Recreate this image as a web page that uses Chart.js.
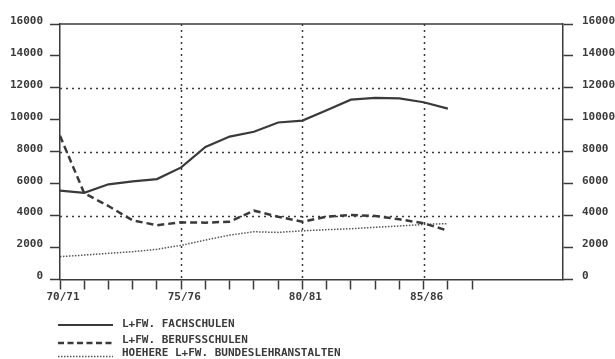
<!DOCTYPE html>
<html>
<head>
<meta charset="utf-8">
<script src="https://cdn.jsdelivr.net/npm/chart.js@4/dist/chart.umd.min.js"></script>
<style>
  html, body { margin: 0; padding: 0; background: #fff; }
  #wrap { width: 615px; height: 359px; }
</style>
</head>
<body>
<div id="wrap"><canvas id="c" width="615" height="359"></canvas></div>
<script>
// School years, one point per year (index = position on the x axis)
const seasons = ['70/71','71/72','72/73','73/74','74/75','75/76','76/77','77/78','78/79',
                 '79/80','80/81','81/82','82/83','83/84','84/85','85/86','86/87','87/88'];
const xTickLabels = ['70/71', '75/76', '80/81', '85/86'];
const yTickValues = [0, 2000, 4000, 6000, 8000, 10000, 12000, 14000, 16000];
const gridY = [4000, 8000, 12000];
const gridX = ['75/76', '80/81', '85/86'];

const seriesNames = ['L+FW. FACHSCHULEN', 'L+FW. BERUFSSCHULEN', 'HOEHERE L+FW. BUNDESLEHRANSTALTEN'];
const fachschulen   = [5560, 5430, 5960, 6150, 6290, 7020, 8300, 8950, 9250, 9830, 9950, 10600, 11260, 11370, 11340, 11100, 10700];
const berufsschulen = [9000, 5400, 4600, 3700, 3400, 3580, 3560, 3620, 4310, 3930, 3620, 3930, 4040, 3980, 3770, 3520, 3060];
const hoehere       = [1430, 1530, 1640, 1740, 1890, 2140, 2470, 2780, 2990, 2950, 3050, 3120, 3180, 3270, 3350, 3450, 3500];

const INK = '#3a3a3a';
const FONT = { family: "'DejaVu Sans Mono', 'Liberation Mono', monospace", size: 11, weight: 'bold' };

const toPoints = vals => vals.map((v, i) => ({ x: i, y: v }));

// Dotted reference grid and the top frame line
const framePlugin = {
  id: 'frame',
  beforeDatasetsDraw(chart) {
    const { ctx, scales: { x, y } } = chart;
    ctx.save();
    ctx.strokeStyle = INK;
    ctx.lineWidth = 1.5;
    ctx.setLineDash([2, 4]);
    gridY.forEach(v => {
      const py = Math.round(y.getPixelForValue(v)) + 0.5;
      ctx.beginPath(); ctx.moveTo(x.left, py); ctx.lineTo(x.right, py); ctx.stroke();
    });
    gridX.forEach(s => {
      const px = Math.round(x.getPixelForValue(seasons.indexOf(s))) + 0.5;
      ctx.beginPath(); ctx.moveTo(px, y.top); ctx.lineTo(px, y.bottom); ctx.stroke();
    });
    ctx.setLineDash([]);
    ctx.beginPath(); ctx.moveTo(x.left, y.top); ctx.lineTo(x.right, y.top); ctx.stroke();
    ctx.restore();
  }
};

// Legend: one row per series, line sample followed by its name
const legendPlugin = {
  id: 'rowLegend',
  afterDraw(chart) {
    const { ctx } = chart;
    const lineY = [325, 343, 356.5];
    const textY = [324, 340, 353];
    ctx.save();
    chart.data.datasets.forEach((ds, i) => {
      ctx.strokeStyle = ds.borderColor;
      ctx.lineWidth = ds.borderWidth;
      ctx.setLineDash(ds.legendDash || ds.borderDash || []);
      ctx.beginPath(); ctx.moveTo(58, lineY[i]); ctx.lineTo(113, lineY[i]); ctx.stroke();
      ctx.setLineDash([]);
      ctx.fillStyle = INK;
      ctx.font = `${FONT.weight} ${FONT.size}px ${FONT.family}`;
      ctx.textBaseline = 'middle';
      ctx.textAlign = 'left';
      ctx.fillText(ds.label, 122, textY[i]);
    });
    ctx.restore();
  }
};

const yAxis = (position, width, padding) => ({
  type: 'linear',
  position,
  min: 0,
  max: 16000,
  afterBuildTicks: s => { s.ticks = yTickValues.map(v => ({ value: v })); },
  afterFit: s => { s.width = width; },
  grid: { drawOnChartArea: false, tickLength: 10, tickWidth: 1.5, tickColor: INK },
  border: { display: true, color: INK, width: 1.5 },
  ticks: { color: INK, font: FONT, padding, labelOffset: -3, callback: v => String(v) }
});

new Chart(document.getElementById('c'), {
  type: 'line',
  data: {
    datasets: [
      { label: seriesNames[0], data: toPoints(fachschulen), borderColor: INK, borderWidth: 2.2,
        pointRadius: 0, tension: 0, fill: false },
      { label: seriesNames[1], data: toPoints(berufsschulen), borderColor: INK, borderWidth: 2.5,
        borderDash: [7, 4], legendDash: [6, 3.5], pointRadius: 0, tension: 0, fill: false },
      { label: seriesNames[2], data: toPoints(hoehere), borderColor: '#555', borderWidth: 1.5,
        borderDash: [1.5, 1.5], pointRadius: 0, tension: 0, fill: false }
    ]
  },
  options: {
    responsive: false,
    animation: false,
    devicePixelRatio: 1,
    layout: { padding: { left: 0, right: 0, top: 24, bottom: 50 } },
    plugins: { legend: { display: false }, tooltip: { enabled: false } },
    scales: {
      x: {
        type: 'linear',
        position: 'bottom',
        min: 0,
        max: 20.75,
        afterBuildTicks: s => { s.ticks = seasons.map((_, i) => ({ value: i })); },
        afterFit: s => { s.height = 29.5; },
        grid: { drawOnChartArea: false, tickLength: 10, tickWidth: 1.5, tickColor: INK },
        border: { display: true, color: INK, width: 1.5 },
        ticks: {
          color: INK, font: FONT, padding: 1, labelOffset: 3,
          autoSkip: false, maxRotation: 0,
          callback: v => xTickLabels.includes(seasons[v]) ? seasons[v] : ''
        }
      },
      y: yAxis('left', 60, 7),
      y2: yAxis('right', 52, 9)
    }
  },
  plugins: [framePlugin, legendPlugin]
});
</script>
</body>
</html>
